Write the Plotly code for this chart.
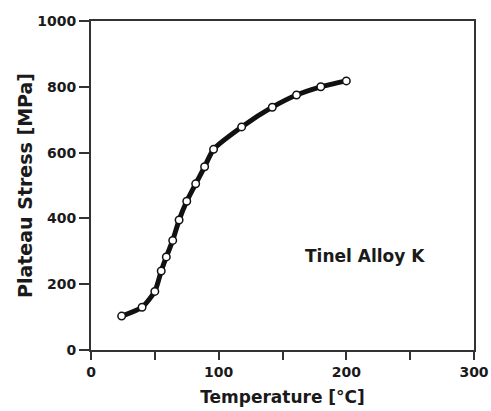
import plotly.graph_objects as go

temperature = [24, 40, 50, 55, 59, 64, 69, 75, 82, 89, 96, 118, 142, 161, 180, 200]
stress = [103, 130, 178, 240, 283, 333, 395, 452, 505, 557, 610, 678, 738, 775, 800, 818]
x_ticks = [0, 50, 100, 150, 200, 250, 300]
x_tick_labels = ["0", "", "100", "", "200", "", "300"]
y_ticks = [0, 200, 400, 600, 800, 1000]
label = "Tinel Alloy K"

FONT = "DejaVu Sans, Liberation Sans, sans-serif"
INK = "#1a1a1a"
LINE = "#333333"

fig = go.Figure()
fig.add_trace(go.Scatter(
    x=temperature, y=stress, mode="lines+markers",
    line=dict(color="#111111", width=5, shape="spline", smoothing=0.6),
    marker=dict(symbol="circle", size=7.5, color="white", line=dict(color="#111111", width=1.5)),
    showlegend=False,
))

fig.add_annotation(x=215, y=285, text="<b>" + label + "</b>", showarrow=False,
                   font=dict(family=FONT, size=17, color=INK))

axis_common = dict(showgrid=False, zeroline=False, showline=True, linecolor=LINE,
                   linewidth=2, mirror=True, ticks="outside", tickcolor=LINE,
                   tickwidth=1.5, automargin=False,
                   tickfont=dict(family=FONT, size=14, color=INK))

fig.update_xaxes(range=[0, 300], tickvals=x_ticks,
                 ticktext=["<b>%s</b>" % t if t else "" for t in x_tick_labels],
                 ticklen=8,
                 title=dict(text="<b>Temperature [°C]</b>", font=dict(family=FONT, size=17, color=INK), standoff=12),
                 **axis_common)
fig.update_yaxes(range=[0, 1000], tickvals=y_ticks,
                 ticktext=["<b>%d</b>" % v for v in y_ticks],
                 ticklen=10,
                 title=dict(text="<b>Plateau Stress [MPa]</b>", font=dict(family=FONT, size=19, color=INK), standoff=0),
                 **axis_common)

fig.update_layout(width=491, height=411, plot_bgcolor="white", paper_bgcolor="white",
                  margin=dict(l=91, r=17, t=21, b=61))

# remove the default 8px body margin of the page so the figure sits at the window origin
fig.write_html("out.html", config={"displayModeBar": False},
               post_script="document.body.style.margin='0';")
